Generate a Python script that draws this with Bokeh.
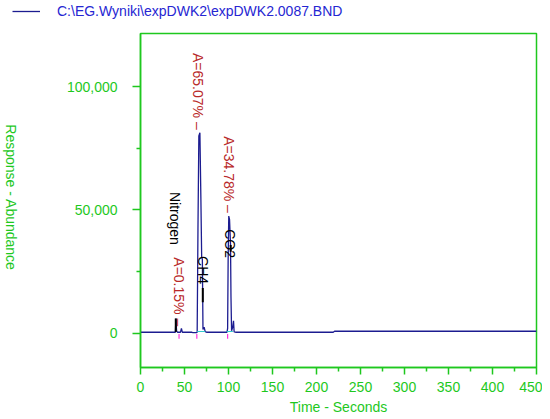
import math
from bokeh.plotting import figure
from bokeh.layouts import column, row
from bokeh.models import (Range1d, FixedTicker, NumeralTickFormatter,
                          Legend, LegendItem, Label, ColumnDataSource)
from bokeh.core.properties import value
from bokeh.embed import file_html
from bokeh.resources import INLINE

# ---------------- data ----------------
legend_text = "C:\\EG.Wyniki\\expDWK2\\expDWK2.0087.BND"
x_title = "Time - Seconds"
y_title = "Response - Abundance"

time_s = [0, 39.6, 40.3, 41.0, 42.0, 45.5, 46.5, 47.5, 58.5, 59.5, 63.5,
          64.4, 65.3, 66.3, 67.5, 68.6, 69.5, 70.3, 71.0, 72.3, 73.5, 75.0,
          98.3, 99.0, 99.6, 100.3, 101.2, 102.3, 102.8, 103.5, 104.8, 105.7, 106.4, 108.0,
          219.0, 220.5, 450]
abundance = [400, 400, 6000, 1000, 400, 400, 2000, 400, 400, 200, 200,
             400, 42000, 80000, 81300, 55000, 31000, 30000, 1500, 2500, 600, 400,
             400, 2000, 30000, 47500, 46000, 36000, 15000, 1000, 2500, 5000, 500, 400,
             400, 800, 800]

# peak annotations
pct_labels = ["A=0.15% \u2013", "A=65.07% \u2013", "A=34.78% \u2013"]
pct_time = [44.0, 65.5, 101.0]
pct_end = [2850, 82500, 48800]

name_labels = ["Nitrogen", "CH4", "CO2"]
name_time = [39.3, 71.0, 102.0]
name_end = [35800, 19900, 30500]

# integration marks
mark_time = [40.1, 70.8, 102.5]
mark_lo = [500, 12600, 33000]
mark_hi = [6000, 18300, 35800]

start_time = [43.8, 64.0, 99.0]
base_seg_t0 = [64.4, 98.0]
base_seg_t1 = [73.5, 105.0]
base_seg_v = [700, 700]

x_ticks = [0, 50, 100, 150, 200, 250, 300, 350, 400, 450]
x_minor = [25, 75, 125, 175, 225, 275, 325, 375, 425]
y_ticks = [0, 50000, 100000]
y_minor = [25000, 75000]

# ---------------- style ----------------
GREEN = "#1ec81e"
NAVY = "#1c1c90"
RED = "#b82828"
BLUE = "#2626d2"
FONT = "Liberation Sans"

src = ColumnDataSource(data=dict(t=time_s, a=abundance))

# ---- legend strip (top) ----
leg_fig = figure(width=542, height=22, output_backend="svg", toolbar_location=None,
                 x_range=Range1d(-20, -10), y_range=Range1d(0, 1),
                 x_axis_location=None, y_axis_location=None, min_border=0)
leg_fig.outline_line_color = None
leg_fig.xgrid.visible = False
leg_fig.ygrid.visible = False
leg_line = leg_fig.line(x="t", y="a", source=src, line_color=NAVY, line_width=1.3)
legend = Legend(items=[LegendItem(label=legend_text, renderers=[leg_line])],
                location=(12, 3), padding=0, margin=0, spacing=0,
                glyph_width=28, glyph_height=14, label_standoff=17,
                label_text_font=FONT, label_text_font_size="14px",
                label_text_color=BLUE, border_line_alpha=0,
                background_fill_alpha=0)
leg_fig.add_layout(legend)

# ---- main plot ----
p = figure(width=522, height=397, output_backend="svg", toolbar_location=None,
           x_range=Range1d(0, 450), y_range=Range1d(-13900, 121500),
           min_border_left=120, min_border_right=6, min_border_top=11,
           min_border_bottom=52)
p.background_fill_color = "white"
p.border_fill_color = "white"
p.outline_line_color = GREEN
p.outline_line_width = 1.5
p.xgrid.visible = False
p.ygrid.visible = False

p.line(x="t", y="a", source=src, line_color=NAVY, line_width=1.3)

p.segment(x0=mark_time, y0=mark_lo, x1=mark_time, y1=mark_hi,
          line_color="black", line_width=2)
p.segment(x0=start_time, y0=[-300] * 3, x1=start_time, y1=[-2200] * 3,
          line_color="#ff33dd", line_width=1.2)
p.segment(x0=base_seg_t0, y0=base_seg_v, x1=base_seg_t1, y1=base_seg_v,
          line_color="#33cccc", line_width=1)

p.text(x=pct_time, y=pct_end, text=pct_labels, angle=-math.pi / 2,
       text_align="right", text_baseline="middle",
       text_font=value(FONT), text_font_size="14px", text_color=RED)
p.text(x=name_time, y=name_end, text=name_labels, angle=-math.pi / 2,
       text_align="right", text_baseline="middle",
       text_font=value(FONT), text_font_size="14px", text_color="black")

for ax in (p.xaxis[0], p.yaxis[0]):
    ax.axis_line_color = GREEN
    ax.axis_line_width = 1.5
    ax.major_tick_line_color = GREEN
    ax.minor_tick_line_color = GREEN
    ax.major_tick_line_width = 1.5
    ax.minor_tick_line_width = 1.5
    ax.major_tick_in = 0
    ax.minor_tick_in = 0
    ax.major_label_text_color = GREEN
    ax.major_label_text_font = FONT
    ax.major_label_text_font_size = "14px"
    ax.axis_label_text_color = GREEN
    ax.axis_label_text_font = FONT
    ax.axis_label_text_font_size = "14px"
    ax.axis_label_text_font_style = "normal"

p.xaxis.ticker = FixedTicker(ticks=x_ticks, minor_ticks=x_minor)
p.xaxis.major_tick_out = 7
p.xaxis.minor_tick_out = 4
p.xaxis.major_label_standoff = 7
p.xaxis.axis_label = x_title
p.xaxis.axis_label_standoff = 4

p.yaxis.ticker = FixedTicker(ticks=y_ticks, minor_ticks=y_minor)
p.yaxis.formatter = NumeralTickFormatter(format="0,0")
p.yaxis.major_tick_out = 8
p.yaxis.minor_tick_out = 4
p.yaxis.major_label_standoff = 15

# ---- y title strip (left) ----
yt_fig = figure(width=20, height=397, output_backend="svg", toolbar_location=None,
                x_range=Range1d(0, 1), y_range=p.y_range,
                x_axis_location=None, y_axis_location=None,
                min_border_left=0, min_border_right=0, min_border_top=11,
                min_border_bottom=52)
yt_fig.outline_line_color = None
yt_fig.xgrid.visible = False
yt_fig.ygrid.visible = False
yt_fig.add_layout(Label(x=10, y=170, x_units="screen", y_units="screen",
                        text=y_title, angle=-math.pi / 2,
                        text_align="center", text_baseline="middle",
                        text_font=FONT, text_font_size="14px", text_color=GREEN))

layout = column(leg_fig, row(yt_fig, p, spacing=0), spacing=0)
open("out.html", "w").write(file_html(layout, INLINE))
